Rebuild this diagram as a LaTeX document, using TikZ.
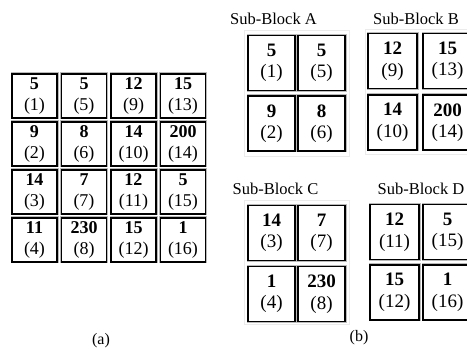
\documentclass[tikz,border=0pt]{standalone}
\usepackage{fontspec}
\setmainfont{Liberation Serif}
\begin{document}
\begin{tikzpicture}[x=1pt,y=-1pt,
 cell/.style={draw=black,line width=1.5pt,preaction={draw=gray!55,line width=3pt},fill=white,align=center,inner sep=0pt},
 gcell/.style={cell,minimum width=45pt,minimum height=44pt,font=\fontsize{18}{21}\selectfont},
 scell/.style={cell,minimum width=48pt,minimum height=55pt,font=\fontsize{19}{21.5}\selectfont},
 panel/.style={draw=black!8,line width=1pt},
 lab/.style={font=\fontsize{16.5}{18}\selectfont,anchor=base,inner sep=0pt},
 captext/.style={font=\fontsize{16}{18}\selectfont,inner sep=0pt}]
\useasboundingbox (0,0) rectangle (467,350);
% (a) full grid
\foreach \v/\p [count=\i from 0] in {5/1,5/5,12/9,15/13,9/2,8/6,14/10,200/14,14/3,7/7,12/11,5/15,11/4,230/8,15/12,1/16} {
  \pgfmathtruncatemacro\c{mod(\i,4)}
  \pgfmathtruncatemacro\r{div(\i,4)}
  \node[gcell] (g\i) at ({34.5+49.5*\c},{96+48*\r}) {\textbf{\v}\\(\p)};
}
\node[captext] (capa) at (101,341) {(a)};
% panels
\draw[panel] (244,31) rectangle (349,157);
\draw[panel] (365,30) rectangle (480,155);
\draw[panel] (244,201) rectangle (349,325);
% labels
\node[lab] (la) at (273.5,25) {Sub-Block A};
\node[lab] (lb) at (416,25) {Sub-Block B};
\node[lab] (lc) at (275.5,195) {Sub-Block C};
\node[lab] (ld) at (421,195) {Sub-Block D};
% Sub-Block A
\node[scell,minimum width=47pt] (a1) at (271.5,63) {\textbf{5}\\(1)};
\node[scell,minimum width=47pt] (a2) at (321.5,63) {\textbf{5}\\(5)};
\node[scell,minimum width=47pt] (a3) at (271.5,123.5) {\textbf{9}\\(2)};
\node[scell,minimum width=47pt] (a4) at (321.5,123.5) {\textbf{8}\\(6)};
% Sub-Block B
\node[scell,minimum width=49pt] (b1) at (392.5,61) {\textbf{12}\\(9)};
\node[scell,minimum width=49pt] (b2) at (447.5,61) {\textbf{15}\\(13)};
\node[scell,minimum width=49pt] (b3) at (392.5,122.5) {\textbf{14}\\(10)};
\node[scell,minimum width=49pt] (b4) at (447.5,122.5) {\textbf{200}\\(14)};
% Sub-Block C
\node[scell,minimum width=47pt] (c1) at (271.5,233) {\textbf{14}\\(3)};
\node[scell,minimum width=47pt] (c2) at (321.5,233) {\textbf{7}\\(7)};
\node[scell,minimum width=47pt] (c3) at (271.5,294) {\textbf{1}\\(4)};
\node[scell,minimum width=47pt] (c4) at (321.5,294) {\textbf{230}\\(8)};
% Sub-Block D
\node[scell,minimum width=49pt] (d1) at (394.5,232) {\textbf{12}\\(11)};
\node[scell,minimum width=49pt] (d2) at (447.5,232) {\textbf{5}\\(15)};
\node[scell,minimum width=49pt] (d3) at (394.5,292.5) {\textbf{15}\\(12)};
\node[scell,minimum width=49pt] (d4) at (447.5,292.5) {\textbf{1}\\(16)};
\node[captext] (capb) at (359,338) {(b)};
\end{tikzpicture}
\end{document}
